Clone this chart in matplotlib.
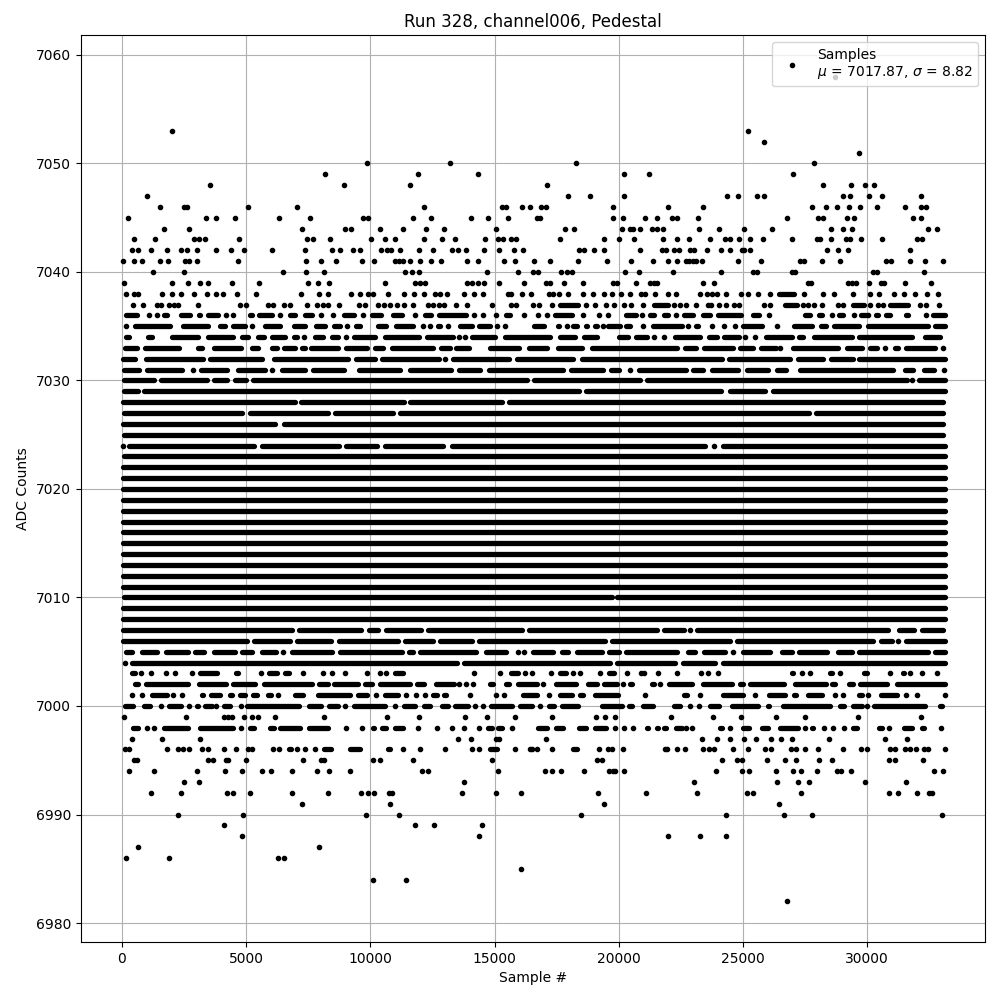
import matplotlib
matplotlib.use('Agg')
import matplotlib.pyplot as plt

# Values. A plain number is one sample, a tuple (first, last)
# is a stretch of the row where the samples overlap into one solid bar.
row_7058 = [28700]
row_7053 = [2000, 25220]
row_7052 = [25864]
row_7051 = [29689]
row_7050 = [9877, 13218, 18295, 27877]
row_7049 = [8186, 11930, 14346, 20228, 21234, 27032]
row_7048 = [3556, 8951, 11608, 17128, 28239, 29367, 29930, 30293]
row_7047 = [993, 17973, 18859, 20228, 24374, 24817, 25582, 25864, 29045, 29326, 30091, 30615, 32185]
row_7046 = [1543, 2510, 2617, 5086, 7059, 12172, 15285, 15460, 16090, 16413, 16873, 17074, 19785, 22000,
            23408, 27796, 28360, 28803, 29286, 29729, 30413, 31540, 32185, 32373]
row_7045 = [255, 3395, 3798, 4563, 6334, 7582, 9689, 9917, 11729, 12454, 14064, 14748, 15553, 16712, 16846,
            19785, 20187, 21073, 21556, 22160, 22361, 23207, 26790, 28038, 28213, 29206, 29487, 31862, 32185]
row_7044 = [1704, 2711, 7260, 8991, 9233, 10400, 11326, 12252, 12977, 15071, 17852, 18215, 20147, 20469, 20590,
            20872, 21355, 21556, 21798, 23247, 24052, 25059, 26186, 28561, 29045, 29407, 32467, 32829]
row_7043 = [496, 1342, 2912, 3113, 3355, 4724, 7461, 7690, 8387, 10038, 10602, 11004, 12172, 12896, 13420, 14628,
            15151, 15352, 15661, 15862, 17651, 19422, 20026, 20630, 21798, 22361, 22845, 23690, 24294, 24468, 24858,
            25300, 25824, 26991, 28000, 28119, 28561, 29165, 29326, 29769, 30615, 32024, 32225]
row_7042 = [416, 657, 1181, 1825, 2389, 2630, 3013, 3798, 4388, 4925, 6052, 7381, 8468, 8790, 9313, 9595, 10441,
            10682, 10843, 11205, 11970, 12534, 13299, 13514, 13863, 14587, 15191, 15795, 16158, 18416, 18617, 19020,
            19422, 20872, 21757, 21919, 22241, 22442, 22885, 23046, 23569, 24133, 24495, 24951, 25059, 25300, 28400,
            28843, 29246, 31742]
row_7041 = [54, 496, 792, 1543, 1865, 2536, 2711, 3013, 4683, 7421, 8025, 8629, 9676, 10159, 11004, 11165, 11326,
            11608, 12011, 12440, 12856, 13903, 14346, 15393, 15835, 16604, 17248, 18376, 19543, 20509, 21395, 22000,
            22361, 22710, 22845, 22979, 23113, 23354, 24817, 25743, 27313, 27474, 28199, 28924, 30776, 30977, 31742,
            32346, 33071]
row_7040 = [1261, 2510, 6495, 7421, 8146, 11407, 11689, 11970, 14708, 15956, 16537, 16738, 17691, 17919, 18107,
            20268, 20832, 22200, 24133, 25421, 25555, 26991, 27099, 30252, 30387, 32306]
row_7039 = [94, 2026, 2670, 3153, 3476, 4442, 5529, 7502, 7904, 8347, 10602, 11810, 12011, 12212, 13903, 14104,
            14346, 14587, 15191, 16198, 17087, 17248, 17812, 18577, 19785, 19919, 20711, 21274, 21415, 21556, 23408,
            23851, 27635, 27743, 29246, 29380, 29568, 30091, 30561, 30695, 31540, 32587]
row_7038 = [174, 496, 631, 1624, 2026, 2389, 2912, 3435, 3798, 4080, 4643, 5408, 7220, 7944, 8280, 9233, 9595, 9917,
            10119, 10722, 11367, 11769, 12172, 12615, 12816, 13098, 13782, 14185, 14547, 15527, 15661, 16090, 16470,
            17208, 17369, 17611, 17973, 18550, 18953, 19422, 19717, 20093, 20469, 20899, 21073, 21476, 22000, 22308,
            23287, 23569, 23757, 23972, 24321, 24925, 25193, 25622, 26092, (26468, 27072), 27474, 28239, 28655,
            29447, 30131, 30494, 31098, 31500, 31943, 32413, 32842]
row_7037 = [443, 859, 1422, 1583, 1906, 2107, 2268, 3073, 4764, 5006, 5891, 6092, 6535, 6777, 7461, 7864, 8105, 8307,
            8736, 9555, 9797, 10320, 10562, 10803, 11085, 11367, 11729, 12333, 12534, 12776, 12977, 13460, 13903,
            14910, 15661, 15876, 16537, 16806, 17329, (17651, 18349), 18698, 19060, 19503, 19798, 20201, 20509,
            20993, (21409, 22000), 22241, 22482, 22724, 23126, 23583, 23730, 24052, 24334, 24656, 24858, 25864,
            26079, (26696, 27179), 27407, 27609, 27850, 28172, 28843, 29045, (29420, 29890), 30131, 30453, 30642,
            (30937, 31635), 32118, 32386, 32910]
row_7036 = [(174, 617), 1080, 1396, (1677, 1798), (2389, 2737), (3086, 3140), (3449, 3878), 4200, 4482, (5140, 5220),
            (5502, 6052), 6374, (6750, 6965), (7354, 7663), 8025, 8508, (8924, 9354), 9689, (10065, 10414),
            (10911, 11259), 11810, (12212, 12427), (12749, 13836), 14185, 14520, 15057, (15460, 15621), 16198, 16738,
            17114, (17450, 18107), 18577, 19208, 19583, (20308, 20684), 20939, (21274, 21435), (21838, 22000), 22321,
            (22643, 23006), (23381, 23677), (24000, 24911), (25408, 25650), 26065, (27514, 27703), (28078, 28199),
            28575, (28857, 29045), 29460, (29756, 29943), 30051, (30373, 30453), (30749, 30923), (31581, 31662),
            32359, (32654, 33138)]
row_7035 = [148, (537, 1932), (2442, 3476), (3932, 4147), (4469, 4952), 5247, (5744, 6361), (6911, 7367), (7810, 8173),
            (8522, 8777), 9058, (9421, 9582), (10293, 10629), (11018, 11729), 12105, 12414, (12709, 12803), 13138,
            (13621, 14078), (14360, 14816), 15084, 15407, (16577, 17007), (17544, 17611), 17906, (18148, 18335),
            (18684, 18711), (19033, 19114), 19355, (19557, 20040), (20281, 20456), 20993, (21382, 22563), 22804,
            (23113, 23207), 23757, 24227, 24683, (25005, 25757), 26374, (27045, 27797), (28145, 28347),
            (28655, 29675), (30051, 32440), (32748, 33138)]
row_7034 = [(174, 282), (1047, 1194), (1637, 1664), (2000, 3046), (3462, 4482), (4831, 5086), (5462, 5730),
            (6039, 6562), (6925, 7032), 7314, (7757, 8106), (8455, 8683), 9005, (9327, 10186), (10575, 11960),
            (12282, 13342), 13557, 13825, (14093, 15019), (15435, 17234), (17623, 18240), (18589, 19139),
            (20000, 20387), (20696, 21125), 21434, 21837, (22253, 23275), (23624, 23946), (24228, 24858), 25100,
            25476, (25945, 26965), (27274, 27435), (27878, 29381), (29690, 31797), (32320, 32937)]
row_7033 = [(134, 590), (912, 2295), (3046, 3207), (3690, 4791), (5234, 5489), (6039, 6227), (6535, 6965),
            (7247, 7367), (7622, 8683), (9031, 9850), (10199, 10521), (10870, 12537), (12845, 13208), (13463, 13973),
            (14805, 15986), (16375, 17100), (17542, 18536), (18925, 22333), (22682, 23100), (23423, 24617),
            (24899, 25422), (25731, 26321), 26509, (27019, 28844), (29193, 29784), (30133, 30414), 30736,
            (31112, 31233), (31582, 32736), 33045]
row_7032 = [(40, 523), (980, 3274), (3556, 5650), (6106, 9112), (9421, 10186), (10468, 12765), 13020, (13329, 15583),
            (15905, 18173), (18522, 24147), (24429, 26898), (27207, 28240), (28549, 29448), (29690, 33139)]
row_7031 = [(67, 684), (1006, 2429), 2845, (3180, 4240), (4657, 5757), 6052, (6441, 7367), (7676, 8951),
            (9528, 11192), (11584, 13248), (13557, 14416), (14765, 17771), (18093, 19381), (19690, 20012), 20441,
            (20803, 22698), (22993, 23409), (23758, 24818), (25167, 26026), (26375, 26724), (27314, 31058),
            (31542, 31864), (32280, 32696), 33112]
row_7030 = [(67, 1302), (1570, 3409), (3690, 4240), (4536, 4992), (5274, 16294), (16603, 20857), (21139, 31595), 31810,
            (32078, 33139)]
row_7029 = [(67, 657), (899, 18401), (18697, 24107), (24496, 25892), (26214, 33139)]
row_7028 = [(40, 6965), (7220, 11336), (11584, 15288), (15570, 33045)]
row_7027 = [(67, 4818), (5140, 8307), (8589, 10924), (11205, 27663), (27945, 33072)]
row_7026 = [(40, 6160), (6509, 33072)]
row_7025 = [(67, 33072)]
row_7024 = [27, (282, 5314), (5636, 8736), (9018, 10253), (10575, 12913), (13288, 23476), 23852, (24200, 33139)]
row_7023 = [(67, 33139)]
row_7010 = [(67, 19720), (19930, 33138)]
row_7007 = [(40, 6858), (7126, 9622), (9944, 10320), (10630, 12024), (12306, 16090), (16373, 21529), (21811, 22643),
            22885, (23153, 30829), (31299, 31903), (32212, 33070)]
row_7006 = [(40, 5019), (5301, 6764), (7045, 8414), (8723, 11098), (11380, 12534), (12816, 14104), (14373, 19449),
            (19731, 24482), (24764, 30252), (30561, 31017), 31259, (31581, 33138)]
row_7005 = [(174, 416), (805, 1396), (1771, 2644), (2925, 3315), (3690, 4549), (4818, 5247), (5636, 6200), 6495,
            (6844, 8468), (8790, 11259), (11554, 11729), (11984, 14252), (14641, 15446), 15929, 16171, (16546, 17369),
            (17718, 17973), (18322, 19342), (19597, 20013), (20308, 22361), (22777, 23073), (23422, 24280), 24603,
            (25005, 26092), (26575, 26964), (27246, 28400), (28816, 29380), (29662, 32467), (32748, 33138)]
row_7004 = [107, (402, 13474), (13782, 19650), (19932, 22267), (22576, 23878), (24200, 33138)]
row_7003 = [(402, 523), 765, 1181, 1785, 2147, 2832, (3154, 3811), (4576, 4657), 5609, (5918, 6227), (6562, 6723), 7300,
            8105, 8468, 8991, 9877, 10400, 10628, (10991, 11326), 14185, 15231, (15661, 15956), 16238, 16510, 17275,
            (17624, 17866), 18174, 18456, 19261, (19597, 19825), 20348, 20912, 21033, 21596, 22361, 23328, 23609,
            24012, (26978, 27032), 27394, 27716, (28521, 28575), 28924, (29890, 30011), 30937, (31433, 31500), 31742,
            32225, 32829]
row_7002 = [(510, 657), (980, 2644), (3086, 4173), (4469, 5354), (5730, 7663), (7931, 8280), (8522, 9515), (9770, 10078),
            (10374, 11608), (11877, 12172), (12655, 13380), 13581, 13863, 14145, (14802, 14949), (15446, 15581),
            (15929, 16698), 16967, (17490, 18282), (18765, 19141), (19422, 19946), 20160, (20469, 20550), (21328, 21435),
            21677, (22012, 22938), (23395, 24576), (24871, 25019), (25300, 26669), (27085, 28347), (28588, 28709),
            (29259, 29447), (29729, 30803), (31205, 33138)]
row_7001 = [416, 805, (1208, 1798), 2067, 2429, (3221, 3274), (3583, 3945), (4335, 4442), (4764, 4952), (5274, 5448),
            (5878, 5985), 6294, (6951, 7300), (7877, 9179), (9501, 9850), 10212, (10602, 11125), 11447, 11850, 12212,
            (12507, 12668), (12950, 13031), (13715, 13742), 14024, 15071, 15393, (16144, 16698), 17208, (17651, 18107),
            (18456, 18577), (19060, 19986), 21073, (22616, 22737), 23287, (24187, 25019), 25502, (26039, 26696),
            (27045, 27125), (27622, 28199), 28709, 29045, (29662, 29809), 30051, (30574, 31192), 31567, 32024, 33124]
row_7000 = [(107, 456), (872, 1127), 1583, (1879, 2375), 2697, (3019, 3046), (3355, 3610), 3798, (4093, 4348), 4804,
            (5032, 7139), (7542, 8011), (8320, 8709), 8991, (9327, 10588), 10991, (11340, 11796), (12145, 12400),
            (12883, 13138), (13420, 13916), 14225, 14547, (14856, 15688), (16010, 16500), 16832, (17181, 17409),
            (17718, 18376), (19328, 20120), (20429, 20523), (20979, 21395), (22241, 22469), 22885, 23247,
            (23663, 24039), (24562, 25622), (26012, 26052), (26616, 28508), (28897, 29072), (29434, 29783), 29984,
            (30266, 32332), (32923, 33030)]
row_6999 = [94, 2590, 4120, 4281, 4442, 4925, 5247, 5489, 6173, 8146, 10682, 11970, 13822, 14708, 15835, 17329, 19100,
            19466, 19860, 22100, 23810, 24940, 26340, 27510, 29650, 32180]
row_6998 = [(429, 657), 1020, 1301, (1677, 2670), (3127, 4482), 4804, (5140, 5327), (5945, 6106), (6374, 7180),
            (7515, 8307), 9031, 9676, (10105, 10159), (10467, 10642), (11004, 11300), 11930, 12681, 13299, 13782, 14387,
            (14722, 14883), (15124, 15312), 15715, (16738, 17101), (17490, 17772), (18389, 18671), (19060, 19476), 19865,
            20200, 20563, (21140, 21194), (21543, 21596), (21838, 21905), (22308, 22536), 22724, 22965, (24066, 24173),
            24468, (25005, 25260), (25770, 26025), (26481, 27233), 27514, (27783, 27837), 28253, 28615, 29085,
            (29420, 29608), (30467, 30588), 30897, (31474, 31796), (32212, 32306), 32990]
row_6997 = [416, 1624, 3153, 13541, 14064, 15044, 15178, 17087, 23368, 23972, 24495, 25059, 25542, 26146, 26548, 26991,
            28481, 30736, 31594]
row_6996 = [121, 295, 1812, 2241, 2456, 2711, 3221, 3476, 4120, 4603, 5059, 5247, 6066, 6334, (6710, 6804), 7045, 7381,
            7784, (8119, 8414), (9193, 9582), (10709, 10790), 11326, 12011, 13017, 14104, 14373, (14829, 15084), 15835,
            16440, 16497, 16711, 17329, (18161, 18335), 19221, 19577, 19738, 20174, 21878, 21932, 22361, 22670, 23381,
            23623, 23851, 24616, 25220, 25891, 26132, 26924, 27152, 27514, 28038, 29045, 29755, 30011, 30937, 31125,
            31540, 31742, 31970, 32279, 32467, 33124]
row_6995 = [470, 604, 3476, 3677, 4187, 4281, 4992, 7300, 8011, 8146, 10119, 10400, 11729, 14910, 19127, 19315, 24173,
            24777, 24978, 25985, 26709, 27152, 28078, 28602, 30897, 31125, 32265]
row_6994 = [295, 1301, 3013, 4160, 4845, 5650, 6012, 6858, 7864, 8347, 9193, 12091, 12333, 15151, 17047, 17329, 17691,
            18617, 19624, 19758, 19865, 20228, 23932, 24978, 25260, 26347, 27032, 27354, 27998, 28790, 28951, 29367,
            32708, 33071]
row_6993 = [2509, 3113, 13782, 23046, 26387, 27233, 27676, 29930, 31581]
row_6992 = [1181, 2389, 4240, 4482, 5167, 6858, 8307, 9635, 9917, 10159, 10763, 10870, 13702, 15071, 16077, 19181,
            21113, 23167, 25180, 25421, 27354, 30897, 31259, 32024, 32507, 32628]
row_6991 = [7260, 10803, 19422, 26468]
row_6990 = [2268, 4885, 9837, 11165, 18496, 24334, 26669, 27796, 33030]
row_6989 = [4120, 11809, 12574, 14507]
row_6988 = [4845, 14387, 22000, 23287, 24334]
row_6987 = [657, 7945]
row_6986 = [174, 1906, 6294, 6535]
row_6985 = [16077]
row_6984 = [10119, 11447]
row_6982 = [26790]

# rows where the samples run together from end to end
solid_levels = [7022, 7021, 7020, 7019, 7018, 7017, 7016, 7015, 7014, 7013, 7012, 7011, 7009, 7008]
solid_first = 50
solid_last = 33138

rows = {
    7058: row_7058, 7053: row_7053, 7052: row_7052, 7051: row_7051, 7050: row_7050, 7049: row_7049, 7048: row_7048,
    7047: row_7047, 7046: row_7046, 7045: row_7045, 7044: row_7044, 7043: row_7043, 7042: row_7042, 7041: row_7041,
    7040: row_7040, 7039: row_7039, 7038: row_7038, 7037: row_7037, 7036: row_7036, 7035: row_7035, 7034: row_7034,
    7033: row_7033, 7032: row_7032, 7031: row_7031, 7030: row_7030, 7029: row_7029, 7028: row_7028, 7027: row_7027,
    7026: row_7026, 7025: row_7025, 7024: row_7024, 7023: row_7023, 7010: row_7010, 7007: row_7007, 7006: row_7006,
    7005: row_7005, 7004: row_7004, 7003: row_7003, 7002: row_7002, 7001: row_7001, 7000: row_7000, 6999: row_6999,
    6998: row_6998, 6997: row_6997, 6996: row_6996, 6995: row_6995, 6994: row_6994, 6993: row_6993, 6992: row_6992,
    6991: row_6991, 6990: row_6990, 6989: row_6989, 6988: row_6988, 6987: row_6987, 6986: row_6986, 6985: row_6985,
    6984: row_6984, 6982: row_6982,
}

dot_x, dot_y = [], []
bar_y, bar_first, bar_last = [], [], []
for level, items in rows.items():
    for item in items:
        if isinstance(item, tuple):
            bar_y.append(level)
            bar_first.append(item[0])
            bar_last.append(item[1])
        else:
            dot_x.append(item)
            dot_y.append(level)
for level in solid_levels:
    bar_y.append(level)
    bar_first.append(solid_first)
    bar_last.append(solid_last)

fig, ax = plt.subplots(figsize=(10, 10))

ax.plot(dot_x, dot_y, 'k.', label='Samples\n$\\mu$ = 7017.87, $\\sigma$ = 8.82')
# a '.' marker is about 4pt wide, so the bars look like overlapping dots
ax.hlines(bar_y, bar_first, bar_last, colors='k', linewidth=3.8, capstyle='round', zorder=2)

ax.set_xlim(-1650, 34750)
ax.set_ylim(6978.25, 7061.84)
ax.set_xlabel('Sample #')
ax.set_ylabel('ADC Counts')
ax.set_title('Run 328, channel006, Pedestal')
ax.grid(True)
ax.legend(loc='upper right')

fig.subplots_adjust(left=0.081, right=0.985, top=0.965, bottom=0.058)
plt.savefig('out.png', dpi=100)
